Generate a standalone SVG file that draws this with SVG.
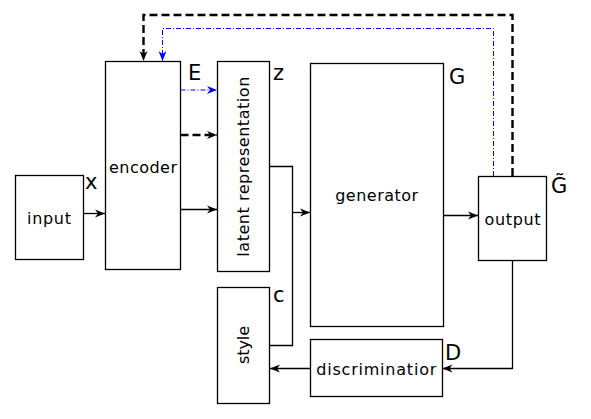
<svg xmlns="http://www.w3.org/2000/svg" width="591" height="419" viewBox="0 0 591 419">
<style>
.box{fill:#fff;stroke:#000;stroke-width:1.3}
.t{font-family:"DejaVu Sans",sans-serif;font-size:16px;fill:#000;text-anchor:middle}
.lab{font-family:"DejaVu Sans",sans-serif;font-size:21px;fill:#000}
.c{fill:none;stroke:#000;stroke-width:1.3}
.dash{fill:none;stroke:#000;stroke-width:2.4;stroke-dasharray:8,4}
.blue{fill:none;stroke:#0000ff;stroke-width:1;stroke-dasharray:5,2,1,2}
</style>
<defs>
<marker id="ah" viewBox="-11 -5 12 10" refX="0" refY="0" markerWidth="12" markerHeight="10" markerUnits="userSpaceOnUse" orient="auto">
<path d="M0,0 L-10,-4 L-7,0 L-10,4 Z" fill="#000"/>
</marker>
<marker id="ahb" viewBox="-11 -5 12 10" refX="0" refY="0" markerWidth="12" markerHeight="10" markerUnits="userSpaceOnUse" orient="auto">
<path d="M0,0 L-10,-4 L-7,0 L-10,4 Z" fill="#0000ff"/>
</marker>
</defs>
<rect width="591" height="419" fill="#fff"/>
<g id="connectors">
<path class="c" d="M83.5,213.5 H105" marker-end="url(#ah)"/>
<path class="c" d="M180.5,209.5 H217" marker-end="url(#ah)"/>
<path class="dash" d="M180.5,135 H217" marker-end="url(#ah)"/>
<path class="blue" d="M180.5,90 H217" marker-end="url(#ahb)"/>
<path class="c" d="M269.5,166.5 H292.5 V345.5 H269.5"/>
<path class="c" d="M292.5,212.5 H310" marker-end="url(#ah)"/>
<path class="c" d="M443.5,215.5 H478" marker-end="url(#ah)"/>
<path class="c" d="M512.5,260 V368.5 H442.5" marker-end="url(#ah)"/>
<path class="c" d="M310.5,368.5 H270" marker-end="url(#ah)"/>
<path class="dash" d="M512.5,176 V15 H143.5 V61" marker-end="url(#ah)"/>
<path class="blue" d="M493.5,176 V28.5 H162.5 V61" marker-end="url(#ahb)"/>
</g>
<g id="input">
<rect class="box" x="15.5" y="175.5" width="68" height="84"/>
<text class="t" x="49" y="224" textLength="44" lengthAdjust="spacing">input</text>
<text class="lab" x="85" y="189">x</text>
</g>
<g id="encoder">
<rect class="box" x="105.5" y="61.5" width="75" height="208"/>
<text class="t" x="143" y="172.5" textLength="68" lengthAdjust="spacing">encoder</text>
<text class="lab" x="188" y="80">E</text>
</g>
<g id="latent">
<rect class="box" x="217.5" y="61.5" width="52" height="210"/>
<text class="t" transform="translate(248.5,166.7) rotate(-90)" textLength="180" lengthAdjust="spacing">latent representation</text>
<text class="lab" x="273" y="80">z</text>
</g>
<g id="style">
<rect class="box" x="217.5" y="287.5" width="52" height="116"/>
<text class="t" transform="translate(248.5,345) rotate(-90)" textLength="38" lengthAdjust="spacing">style</text>
<text class="lab" x="273" y="302">c</text>
</g>
<g id="generator">
<rect class="box" x="310.5" y="63.5" width="133" height="263"/>
<text class="t" x="376.7" y="200.5" textLength="83" lengthAdjust="spacing">generator</text>
<text class="lab" x="449" y="84">G</text>
</g>
<g id="output">
<rect class="box" x="478.5" y="176.5" width="68" height="84"/>
<text class="t" x="512.5" y="225" textLength="56" lengthAdjust="spacing">output</text>
<text class="lab" x="551" y="193">G̃</text>
</g>
<g id="discriminator">
<rect class="box" x="310.5" y="339.5" width="132" height="57"/>
<text class="t" x="376.3" y="375" textLength="120" lengthAdjust="spacing">discriminatior</text>
<text class="lab" x="445" y="360">D</text>
</g>
</svg>
